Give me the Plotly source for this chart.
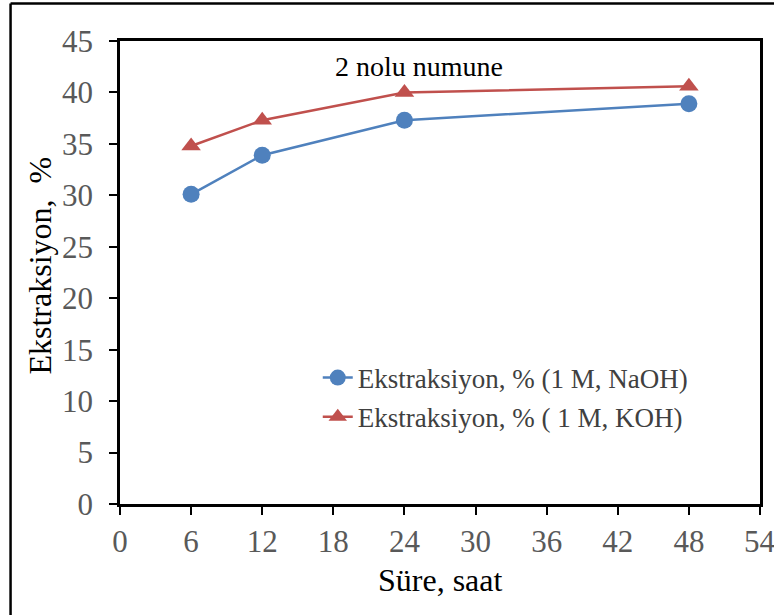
import plotly.graph_objects as go

hours = [6, 12, 24, 48]
naoh = [30.1, 33.9, 37.3, 38.9]
koh = [34.8, 37.3, 40.0, 40.6]
x_ticks = [0, 6, 12, 18, 24, 30, 36, 42, 48, 54]
y_ticks = [0, 5, 10, 15, 20, 25, 30, 35, 40, 45]

FONT = "Liberation Serif"
BLUE = "#4F81BD"
RED = "#C0504D"
TICKFONT = dict(family=FONT, size=31, color="#595959")

fig = go.Figure()
fig.add_trace(go.Scatter(x=hours, y=naoh, mode="lines+markers",
                         name="Ekstraksiyon, % (1 M, NaOH)", legendgroup="a",
                         line=dict(color=BLUE, width=2.5),
                         marker=dict(symbol="circle", size=17, color=BLUE)))
fig.add_trace(go.Scatter(x=hours, y=koh, mode="lines+markers",
                         name="Ekstraksiyon, % ( 1 M, KOH)", legendgroup="b",
                         line=dict(color=RED, width=2.5),
                         marker=dict(symbol="triangle-up", size=17, color=RED)))

axis_common = dict(showline=True, linecolor="black", linewidth=2.5, mirror=True,
                   ticks="outside", ticklen=8, tickwidth=2, tickcolor="black",
                   showgrid=False, zeroline=False, automargin=False,
                   tickfont=TICKFONT)

fig.update_xaxes(range=[0, 54], tickvals=x_ticks, **axis_common)
fig.update_yaxes(range=[0, 45], tickvals=y_ticks, ticklabelstandoff=10, **axis_common)

# last x tick label overflows the page edge; plotly drops it, so draw it as text
last_label = dict(text=str(x_ticks[-1]), x=x_ticks[-1], y=-0.082, xref="x", yref="paper",
                  xanchor="center", yanchor="middle", showarrow=False, font=TICKFONT)

fig.update_layout(
    width=774, height=615,
    margin=dict(l=120, r=14, t=41, b=111),
    plot_bgcolor="white", paper_bgcolor="white",
    font=dict(family=FONT),
    showlegend=True,
    legend=dict(x=0.309, y=0.325, xanchor="left", yanchor="top",
                bgcolor="rgba(0,0,0,0)",
                font=dict(family=FONT, size=27, color="#404040"),
                tracegroupgap=1),
    annotations=[
        dict(text="2 nolu numune", x=25.2, y=42.5, xref="x", yref="y",
             showarrow=False, font=dict(family=FONT, size=28, color="black")),
        dict(text="Süre, saat", x=0.5, y=-0.165, xref="paper", yref="paper",
             xanchor="center", yanchor="middle", showarrow=False,
             font=dict(family=FONT, size=32, color="black")),
        dict(text="Ekstraksiyon,  %", x=-0.125, y=0.515, xref="paper", yref="paper",
             xanchor="center", yanchor="middle", textangle=-90, showarrow=False,
             font=dict(family=FONT, size=32, color="black")),
        last_label,
    ],
    shapes=[
        dict(type="line", xref="paper", yref="paper", x0=-0.171, x1=1.1, y0=1.081, y1=1.081,
             line=dict(color="black", width=2.5)),
        dict(type="line", xref="paper", yref="paper", x0=-0.171, x1=-0.171, y0=1.081, y1=-0.3,
             line=dict(color="black", width=2.5)),
    ],
)

fig.write_html("out.html")
